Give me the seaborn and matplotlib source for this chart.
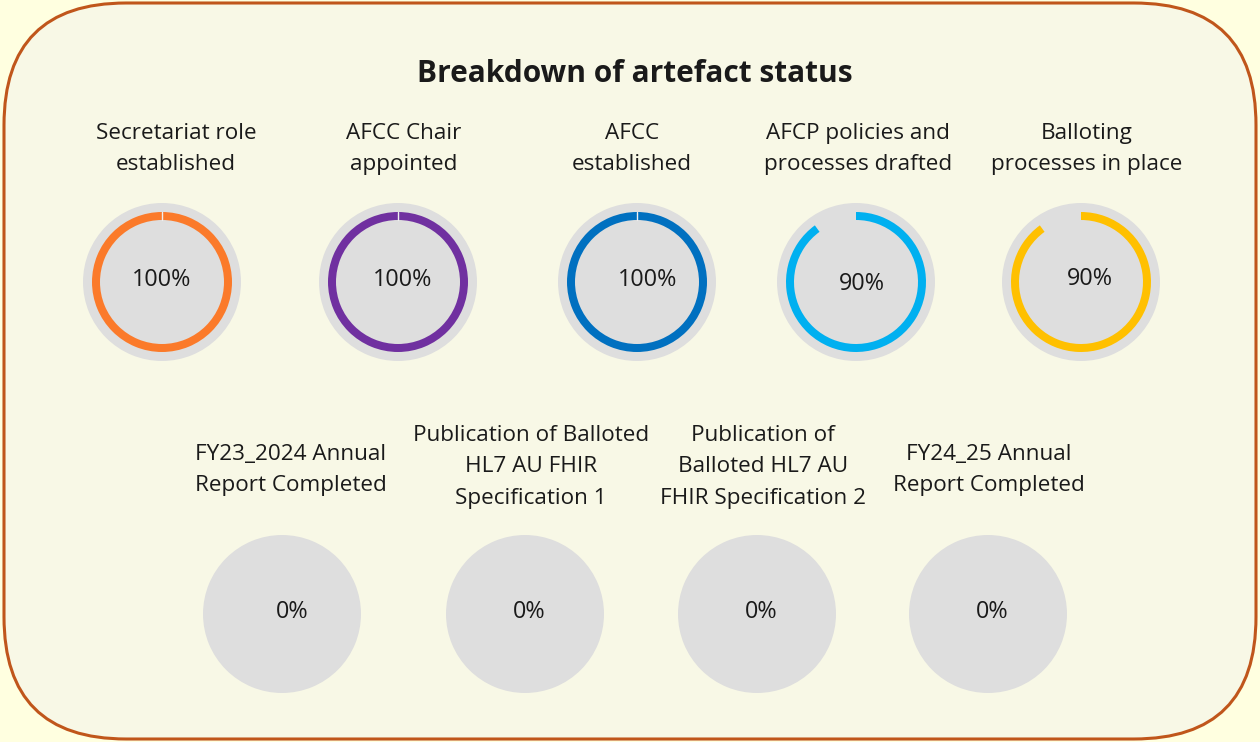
import matplotlib.pyplot as plt
import seaborn as sns
from matplotlib.patches import FancyBboxPatch

# Datos del grafico
titulo = "Breakdown of artefact status"
etiquetas_sup = ["Secretariat role\nestablished", "AFCC Chair\nappointed", "AFCC\nestablished",
                 "AFCP policies and\nprocesses drafted", "Balloting\nprocesses in place"]
valores_sup = [100, 100, 100, 90, 90]
colores_sup = ["#FB7A2A", "#7030A0", "#0070C0", "#00B0F0", "#FFC000"]

etiquetas_inf = ["FY23_2024 Annual\nReport Completed", "Publication of Balloted\nHL7 AU FHIR\nSpecification 1",
                 "Publication of\nBalloted HL7 AU\nFHIR Specification 2", "FY24_25 Annual\nReport Completed"]
valores_inf = [0, 0, 0, 0]
colores_inf = ["#A5A5A5", "#A5A5A5", "#A5A5A5", "#A5A5A5"]

sns.set_theme(style="white")
plt.rcParams["font.family"] = ["Open Sans", "DejaVu Sans"]

W, H = 1260, 742
fig = plt.figure(figsize=(W / 100, H / 100), dpi=100, facecolor="#FFFFE0")
ax = fig.add_axes([0, 0, 1, 1])
ax.set_facecolor("#FFFFE0")

# Marco redondeado
marco = FancyBboxPatch((4, 3), W - 8, H - 6, boxstyle="round,pad=0,rounding_size=122",
                       facecolor="#F8F8E6", edgecolor="#C0561B", linewidth=2.2, zorder=0)
ax.add_patch(marco)

ax.text(635, H - 74, titulo, ha="center", va="center", fontsize=21.5, fontweight="bold", color="#1A1A1A")

gris = "#DEDEDE"


def dona(cx, cy, valor, color, pct_dx=0, pct_dy=0):
    y = H - cy
    ax.pie([1], radius=79, colors=[gris], center=(cx, y), wedgeprops=dict(linewidth=0))
    if valor > 0:
        ax.pie([valor, 100 - valor], radius=70, colors=[color, "none"], center=(cx, y),
               startangle=90, counterclock=False,
               wedgeprops=dict(width=8, linewidth=0))
        if valor == 100:
            ax.plot([cx, cx], [y + 62, y + 70], color="#EFEFEF", lw=1)
    ax.text(cx + pct_dx, y - pct_dy, f"{valor}%", ha="center", va="center", fontsize=16.8, color="#1A1A1A")


# Fila superior
centros_sup = [162, 398, 637, 856, 1081]
texto_sup = [176, 404, 632, 858, 1087]
dx_sup = [0, 5, 11, 6, 9]
dy_sup = [-2, -2, -2, 2, -3]
for i, (cx, tx, lab, v, c) in enumerate(zip(centros_sup, texto_sup, etiquetas_sup, valores_sup, colores_sup)):
    dona(cx, 282, v, c, dx_sup[i], dy_sup[i])
    ax.text(tx, H - 149, lab, ha="center", va="center", fontsize=16.2, color="#1A1A1A",
            multialignment="center", linespacing=1.68)

# Fila inferior
centros_inf = [282, 525, 757, 988]
texto_inf = [291, 531, 763, 989]
for cx, tx, lab, v, c in zip(centros_inf, texto_inf, etiquetas_inf, valores_inf, colores_inf):
    dona(cx, 614, v, c, pct_dx=10 if cx == 282 else 4, pct_dy=-2)
    ty = 470 if lab.count("\n") == 1 else 467
    ax.text(tx, H - ty, lab, ha="center", va="center", fontsize=16.2, color="#1A1A1A",
            multialignment="center", linespacing=1.68)

ax.set_xlim(0, W)
ax.set_ylim(0, H)
ax.set_aspect("auto")
ax.axis("off")

fig.savefig("out.png", dpi=100, facecolor=fig.get_facecolor())
